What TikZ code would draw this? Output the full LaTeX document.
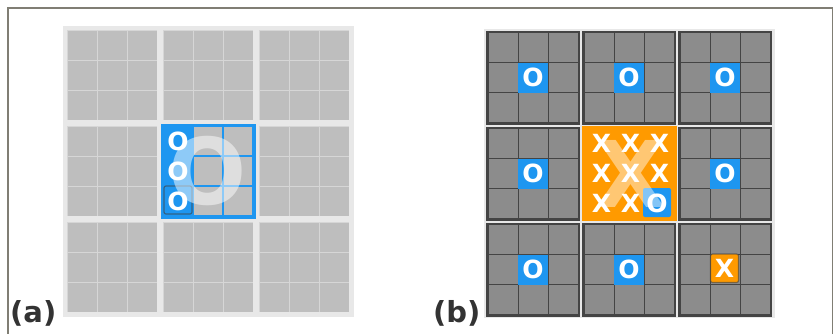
\documentclass[tikz,border=0pt]{standalone}
\usepackage{fontspec}
\setmainfont{DejaVu Sans}
\usetikzlibrary{positioning}
\definecolor{tblue}{RGB}{30,150,240}
\definecolor{torange}{RGB}{255,154,0}
\definecolor{lightcell}{RGB}{190,190,190}
\definecolor{darkcell}{RGB}{140,140,140}
\definecolor{boardbg}{RGB}{232,232,232}
\definecolor{boardline}{RGB}{68,68,68}
\definecolor{outerline}{RGB}{128,126,116}

\begin{document}
\begin{tikzpicture}[
		x=1pt, y=-1pt,
		% styles
		lcell/.style={fill=lightcell},
		dcell/.style={fill=darkcell},
		cellmark/.style={text=white, inner sep=0pt, font=\fontsize{25}{25}\selectfont\bfseries},
		bigmark/.style={text=white, opacity=0.5, inner sep=0pt, font=\fontsize{92}{92}\selectfont\bfseries},
		lastmove/.style={draw=black!75, draw opacity=0.6, line width=1.2pt, rounded corners=2pt},
		panel/.style={anchor=base west, inner sep=0pt, text=black!80, font=\fontsize{29}{29}\selectfont\bfseries}
		]
		\useasboundingbox (0,0) rectangle (834,333);
		
		% outer frame
		\draw[outerline, line width=1.5pt] (8,334) -- (8,8) -- (832.5,8) -- (832.5,334);
		
		% ==========================================
		% (a) light board, centre block won by O
		% ==========================================
		\fill[boardbg] (62.5,26) rectangle (354,317);
		\foreach \bi in {0,1,2} {
			\foreach \bj in {0,1,2} {
				\fill[black!16] (67+96*\bi,30+96*\bj) rectangle ++(90,90);
				\foreach \ci in {0,1,2} {
					\foreach \cj in {0,1,2} {
						\fill[lcell] (67.5+96*\bi+30*\ci,30.5+96*\bj+30*\cj) rectangle ++(29,29);
					}
				}
			}
		}
		
		% centre block
		\fill[tblue] (161,124) rectangle (256,219);
		\foreach \ci in {1,2} {
			\foreach \cj in {0,1,2} {
				\fill[lcell] (164+30*\ci,127+30*\cj) rectangle ++(28,28);
			}
		}
		\draw[lastmove] (164,186) rectangle (192,214);
		\foreach \cj in {0,1,2} {
			\node[cellmark] (a-o\cj) at (178,141+30*\cj) {O};
		}
		\node[bigmark] (bigO) at (208,171) {O};
		
		\node[panel] (labelA) at (10,322) {(a)};
		
		% ==========================================
		% (b) dark board, centre block won by X
		% ==========================================
		\fill[boardbg] (484,28.5) rectangle (775,318);
		\foreach \bi in {0,1,2} {
			\foreach \bj in {0,1,2} {
				\fill[boardline] (486+96*\bi,30.5+96*\bj) rectangle ++(94,94);
				\foreach \ci in {0,1,2} {
					\foreach \cj in {0,1,2} {
						\fill[dcell] (488.5+96*\bi+30*\ci,33+96*\bj+30*\cj) rectangle ++(29,29);
					}
				}
			}
		}
		
		% single O in the middle of the other blocks
		\foreach \bi/\bj in {0/0,1/0,2/0,0/1,2/1,0/2,1/2} {
			\fill[tblue] (518+96*\bi,62.5+96*\bj) rectangle ++(30,30);
			\node[cellmark] (b-o\bi\bj) at (533+96*\bi,77.5+96*\bj) {O};
		}
		
		% last move: X in the bottom right block
		\fill[torange, rounded corners=1.5pt] (710.5,254) rectangle (738.5,282.5);
		\draw[lastmove] (710.5,254) rectangle (738.5,282.5);
		\node[cellmark] (b-lastx) at (724.5,268.5) {X};
		
		% centre block
		\fill[torange] (582,126) rectangle (677,221);
		\foreach \ci/\cj in {0/0,1/0,2/0,0/1,1/1,2/1,0/2,1/2} {
			\node[cellmark] (b-x\ci\cj) at (601.5+29*\ci,143+30*\cj) {X};
		}
		\fill[tblue, rounded corners=2pt] (643,188) rectangle (671,217);
		\node[cellmark] (b-o22) at (657,203) {O};
		\node[bigmark, opacity=0.45] (bigX) at (631,174) {X};
		
		\node[panel] (labelB) at (433,322) {(b)};
		
	\end{tikzpicture}
\end{document}
